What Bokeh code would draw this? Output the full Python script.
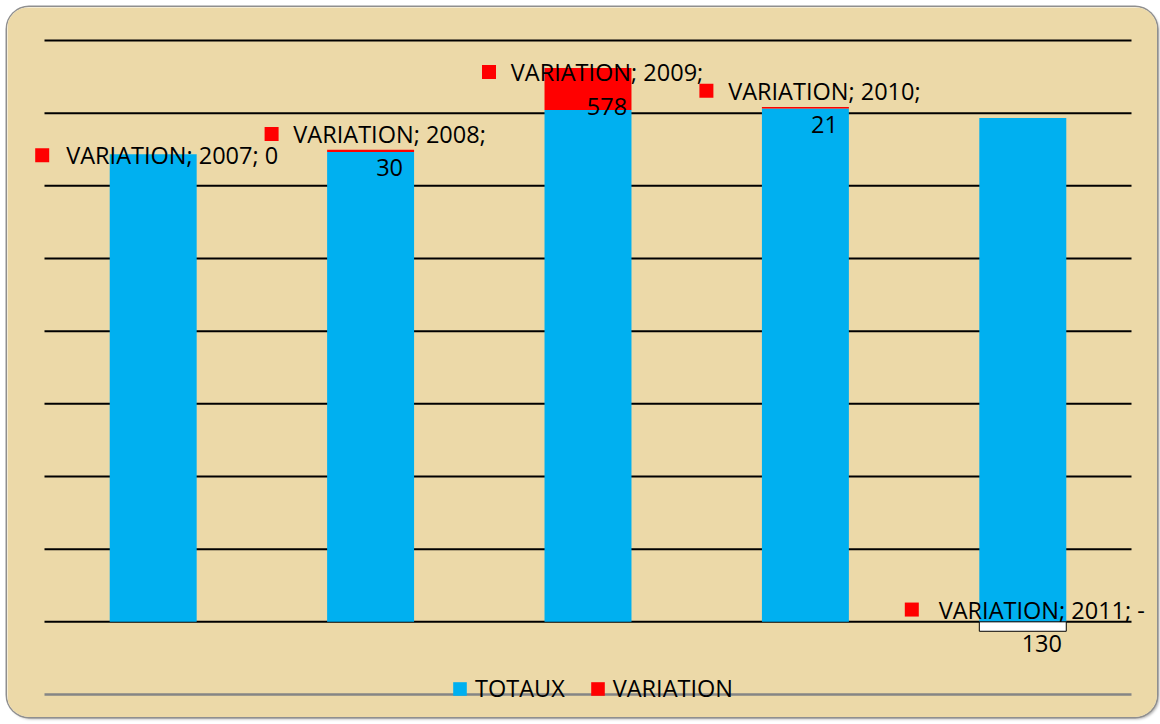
from bokeh.plotting import figure
from bokeh.models import ColumnDataSource, Legend, LegendItem
from bokeh.core.properties import value
from bokeh.embed import file_html
from bokeh.resources import INLINE

# ---- data ----
years = ["2007", "2008", "2009", "2010", "2011"]
totaux = [6435, 6465, 7043, 7064, 6934]
variation = [0, 30, 578, 21, -130]
series_names = ["TOTAUX", "VARIATION"]
grid_ticks = [0, 1000, 2000, 3000, 4000, 5000, 6000, 7000, 8000]
axis_min = -1000

# ---- style / layout ----
BLUE = "#00b0f0"
RED = "#ff0000"
BG = "#ecd9a8"
FONT = "Open Sans"
FS = "23.5px"

W, H = 1150, 710
# plot area (in px inside the figure)
PL, PR, PT, PB = 37, 1124, 33, 687
n = len(years)
ux = n / (PR - PL)                            # data units per px (x)
uy = (grid_ticks[-1] - axis_min) / (PB - PT)  # data units per px (y)
x_start = -PL * ux
x_end = n + (W - PR) * ux
y_end = grid_ticks[-1] + PT * uy
y_start = axis_min - (H - PB) * uy

xs = [i + 0.5 for i in range(n)]
var_bottom = [t if v >= 0 else v for t, v in zip(totaux, variation)]
var_top = [t + v if v >= 0 else 0 for t, v in zip(totaux, variation)]
var_fill = [RED if v >= 0 else "white" for v in variation]
var_line = [None if v >= 0 else "black" for v in variation]

p = figure(width=W, height=H, x_range=(x_start, x_end), y_range=(y_start, y_end),
           output_backend="svg", toolbar_location=None,
           min_border_left=0, min_border_right=0, min_border_top=0, min_border_bottom=0)
p.background_fill_color = BG
p.border_fill_color = BG
p.outline_line_color = None
p.styles = {"margin": "7px 0 0 7px", "border-radius": "22px", "overflow": "hidden",
            "box-shadow": "0 0 0 1.5px #8f8f8f, 2px 2px 3px rgba(0,0,0,0.35)"}
p.xaxis.visible = False
p.yaxis.visible = False
p.xgrid.visible = False
p.ygrid.visible = False

# horizontal gridlines across the plot area and the category axis line
p.segment(x0=0, x1=n, y0=grid_ticks, y1=grid_ticks, line_color="black", line_width=2)
p.segment(x0=[0], x1=[n], y0=[axis_min], y1=[axis_min], line_color="#858585", line_width=2.5)

src_t = ColumnDataSource(dict(x=xs, top=totaux))
r_t = p.vbar(x="x", top="top", bottom=0, width=0.4, fill_color=BLUE, line_color=None, source=src_t)

src_v = ColumnDataSource(dict(x=xs, top=var_top, bottom=var_bottom, fill=var_fill, line=var_line))
r_v = p.vbar(x="x", top="top", bottom="bottom", width=0.4, fill_color="fill",
             line_color="line", line_width=1, source=src_v)

# data labels (series name; category; value) with legend key
tx, ty, tt, tyo = [], [], [], []
mx, my = [], []
for i, (yr, v) in enumerate(zip(years, variation)):
    mid = (var_bottom[i] + var_top[i]) / 2
    if v == 0:
        lines = [f"{series_names[1]}; {yr}; {v}"]
        offs = [1]
    elif v < 0:
        lines = [f"{series_names[1]}; {yr}; -", str(-v)]
        offs = [-17, 17]
    else:
        lines = [f"{series_names[1]}; {yr};", str(v)]
        offs = [-17, 17]
    for ln, o in zip(lines, offs):
        tx.append(xs[i]); ty.append(mid); tt.append(ln); tyo.append(o)
    w = 12 * len(lines[0])
    mx.append(xs[i] + (19 - w / 2 - 22) * ux)
    my.append(mid - offs[0] * uy)

src_lbl = ColumnDataSource(dict(x=tx, y=ty, text=tt, yo=tyo))
p.text(x="x", y="y", text="text", x_offset=19, y_offset="yo", source=src_lbl,
       text_font=value(FONT), text_font_size=FS, text_color="black",
       text_align="center", text_baseline="middle")
p.scatter(x=mx, y=my, marker="square", size=14, fill_color=RED, line_color=None)

legend = Legend(items=[LegendItem(label=series_names[0], renderers=[r_t]),
                       LegendItem(label=series_names[1], renderers=[r_v], index=0)],
                orientation="horizontal", location=(444, 13),
                label_text_font=FONT, label_text_font_size=FS, label_text_color="black",
                glyph_width=17, glyph_height=17, label_standoff=7, spacing=24,
                padding=0, margin=0, background_fill_alpha=0, border_line_color=None)
p.add_layout(legend)

open("out.html", "w").write(file_html(p, INLINE))
